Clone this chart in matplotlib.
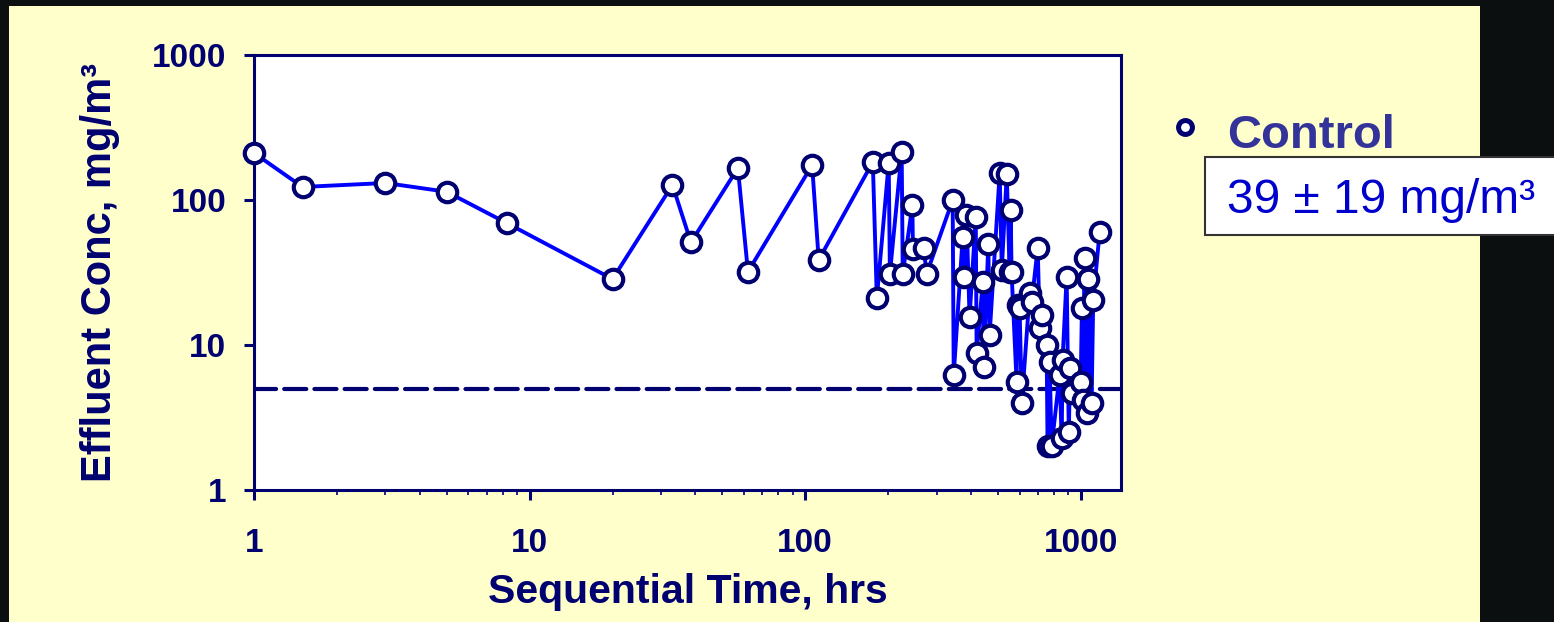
import matplotlib.pyplot as plt
from matplotlib.patches import Rectangle
from matplotlib.lines import Line2D
from matplotlib.ticker import LogLocator, NullLocator, FixedLocator

plt.rcParams['font.family'] = ['Liberation Sans', 'DejaVu Sans']

# sequential time (hrs) and effluent concentration (mg/m3)
hours = [1, 1.5, 3, 5, 8.3, 20, 33, 38.5, 57, 62, 106, 112,
         176, 182, 201, 203, 224, 226, 245, 246, 269, 276,
         343, 346, 373, 376, 385, 395, 416, 419, 441, 444, 462, 467,
         508, 517, 539, 552, 557, 561, 585, 590, 600, 611, 653, 664,
         698, 710, 721, 752, 758, 771, 784, 838, 853, 859, 889,
         905, 915, 927, 1000, 1010, 1015, 1033, 1050, 1062, 1095, 1110, 1171]
conc = [211, 123, 131, 114, 69, 28.5, 127, 51, 166, 32, 174, 38.6,
        183, 21, 180, 31, 214, 31, 92, 46, 47, 31,
        100, 6.2, 56, 29.4, 79, 15.6, 76, 8.8, 27, 7.1, 50, 11.7,
        153, 33, 151, 32, 85, 32, 5.6, 18.9, 18, 4.0, 23, 19.8,
        47, 13.1, 16.1, 10, 2.0, 7.6, 2.0, 6.2, 2.3, 7.9, 29.4,
        2.5, 6.9, 4.7, 5.6, 18, 4.2, 40, 3.4, 28.5, 4.0, 20.4, 60]
limit = 5
series_name = 'Control'
summary = '39 \u00b1 19 mg/m\u00b3'

navy = '#000070'
W, H = 1554, 622
fig = plt.figure(figsize=(W / 100, H / 100), dpi=100, facecolor='#0c0f10')

# yellow slide panel
fig.add_artist(Rectangle((9 / W, 0), 1471 / W, 616 / H, transform=fig.transFigure,
                         facecolor='#ffffcc', edgecolor='none', zorder=0))

ax = fig.add_axes([254 / W, (H - 490) / H, 867 / W, 435 / H])
ax.set_facecolor('white')
ax.set_xscale('log')
ax.set_yscale('log')
ax.set_xlim(1, 1400)
ax.set_ylim(1, 1000)

ax.axhline(limit, color=navy, lw=3, ls=(0, (5.3, 1.95)), dash_capstyle='round', zorder=2)
ax.plot(hours, conc, color='#0000ff', lw=2.8, marker='o', ms=14,
        mfc='white', mec=navy, mew=3, zorder=3, clip_on=False)

for s in ax.spines.values():
    s.set_color(navy)
    s.set_linewidth(2.2)

ax.xaxis.set_major_locator(FixedLocator([1, 10, 100, 1000]))
ax.xaxis.set_minor_locator(LogLocator(base=10, subs=range(2, 10)))
ax.yaxis.set_major_locator(FixedLocator([1, 10, 100, 1000]))
ax.yaxis.set_minor_locator(NullLocator())
ax.set_xticklabels(['1', '10', '100', '1000'])
ax.set_yticklabels(['1', '10', '100', '1000'])
ax.tick_params(which='major', direction='out', length=7, width=2.2, color=navy,
               labelsize=24, labelcolor=navy)
ax.tick_params(axis='x', which='major', pad=20)
ax.tick_params(axis='y', which='major', pad=13)
ax.tick_params(which='minor', direction='out', length=3.5, width=1.2, color=navy)
for lab in ax.get_xticklabels() + ax.get_yticklabels():
    lab.set_fontweight('bold')

ax.set_xlabel('Sequential Time, hrs', fontsize=29.5, fontweight='bold', color=navy)
ax.set_ylabel('Effluent Conc, mg/m\u00b3', fontsize=30, fontweight='bold', color=navy)
ax.xaxis.set_label_coords(0.5, -0.19)
ax.yaxis.set_label_coords(-0.154, 0.5)

# legend entry
fig.add_artist(Line2D([1185 / W], [(H - 127) / H], transform=fig.transFigure,
                      marker='o', ms=10, mfc='white', mec=navy, mew=3.6, ls='none'))
fig.text(1227 / W, (H - 148) / H, series_name, fontsize=34, fontweight='bold',
         color='#333399', ha='left', va='baseline')

# summary box
fig.add_artist(Rectangle((1205 / W, (H - 235) / H), 360 / W, 78 / H,
                         transform=fig.transFigure, facecolor='white',
                         edgecolor='#333333', lw=1.5, zorder=2))
fig.text(1227 / W, (H - 213) / H, summary, fontsize=34.5, color='#0000cc',
         ha='left', va='baseline', zorder=3)

fig.savefig('out.png', dpi=100, facecolor=fig.get_facecolor())
